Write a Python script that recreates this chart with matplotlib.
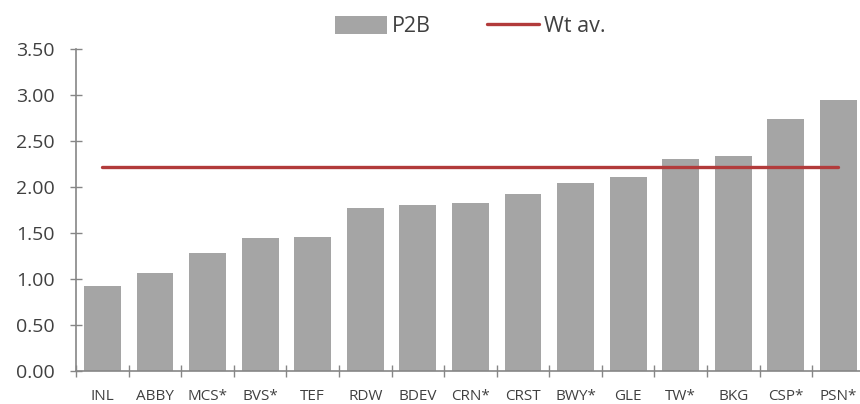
import matplotlib as mpl
mpl.use("Agg")
import matplotlib.pyplot as plt
import numpy as np

# P2B by company, with the weighted average line
companies = ["INL", "ABBY", "MCS*", "BVS*", "TEF", "RDW", "BDEV", "CRN*",
             "CRST", "BWY*", "GLE", "TW*", "BKG", "CSP*", "PSN*"]
p2b = [0.93, 1.07, 1.28, 1.45, 1.46, 1.77, 1.80, 1.83,
       1.92, 2.04, 2.11, 2.30, 2.34, 2.74, 2.94]
wt_av = 2.22

yticks = [0.0, 0.5, 1.0, 1.5, 2.0, 2.5, 3.0, 3.5]

plt.rcParams["font.family"] = ["Open Sans", "DejaVu Sans"]
TXT = "#404040"
AX = "#868686"
BAR = "#A5A5A5"
RED = "#B23B3B"

fig = plt.figure(figsize=(8.6, 4.04), dpi=100)
ax = fig.add_axes([0.0885, 0.081, 0.917, 0.7985])

x = np.arange(len(companies))
bars = ax.bar(x, p2b, width=0.70, color=BAR, label="P2B", zorder=2)
line, = ax.plot([x[0], x[-1]], [wt_av, wt_av], color=RED, linewidth=2.4,
                solid_capstyle="round", label="Wt av.", zorder=3)

ax.set_xlim(-0.5, len(companies) - 0.5)
ax.set_ylim(0, 3.5)
ax.set_yticks(yticks)
ax.set_yticklabels([f"{v:.2f}" for v in yticks], fontsize=14, color=TXT)

# category labels at centres, tick marks between categories
ax.set_xticks(x)
ax.set_xticklabels(companies, fontsize=11, color=TXT)
ax.tick_params(axis="x", which="major", length=0, pad=13)
ax.set_xticks(np.arange(-0.5, len(companies), 1), minor=True)
ax.tick_params(axis="x", which="minor", direction="inout", length=9,
               width=1.0, color=AX)
ax.tick_params(axis="y", direction="inout", length=9, width=1.0, color=AX,
               pad=11)

for side in ["top", "right"]:
    ax.spines[side].set_visible(False)
for side in ["left", "bottom"]:
    ax.spines[side].set_color(AX)
    ax.spines[side].set_linewidth(1.2)

leg = ax.legend(handles=[bars, line], labels=["P2B", "Wt av."],
                loc="lower center", bbox_to_anchor=(0.5, 1.008), ncol=2,
                frameon=False, fontsize=15.5, handlelength=2.4,
                handleheight=0.85, columnspacing=2.6, handletextpad=0.25,
                borderaxespad=0)
for t in leg.get_texts():
    t.set_color(TXT)

fig.savefig("out.png", dpi=100)
